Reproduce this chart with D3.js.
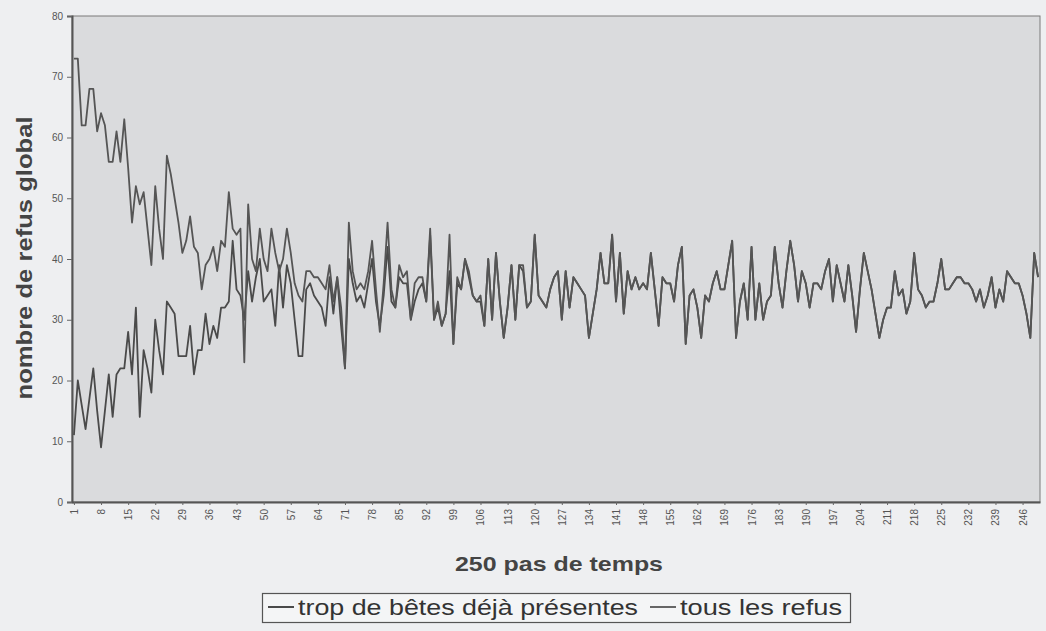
<!DOCTYPE html>
<html><head><meta charset="utf-8">
<script src="https://cdn.jsdelivr.net/npm/d3@7"></script>
<style>
html,body{margin:0;padding:0;background:#eeeff1;}
svg{display:block;font-family:"Liberation Sans",Arial,sans-serif;}
</style></head>
<body><svg id="c" width="1046" height="631"></svg>
<script>
// ---- data ----
const steps = d3.range(1, 251);
const tickSteps = d3.range(1, 251, 7);
const yTicks = [0,10,20,30,40,50,60,70,80];
const seriesNames = ["trop de bêtes déjà présentes", "tous les refus"];
const trop = [
11,20,16,12,17,22,15,9,15,21, 14,21,22,22,28,21,32,14,25,22,
18,30,25,21,33,32,31,24,24,24, 29,21,25,25,31,26,29,27,32,32,
33,43,35,34,30,38,33,37,40,33, 34,35,29,39,32,39,36,30,24,24,
35,36,34,33,32,29,37,31,37,29, 22,40,36,33,34,32,36,40,33,29,
34,42,33,32,37,36,36,30,33,35, 36,33,44,30,32,29,31,38,26,36,
35,40,37,34,33,33,29,40,30,41, 33,27,32,39,30,39,38,32,33,44,
34,33,32,35,37,38,30,38,32,37, 36,35,34,27,31,35,41,36,36,44,
33,41,31,38,35,37,35,36,35,41, 35,29,37,36,36,33,39,42,26,34,
35,32,27,34,33,36,38,35,35,39, 43,27,33,36,30,42,30,36,30,33,
34,42,36,32,38,43,39,33,38,36, 32,36,36,35,38,40,33,39,36,33,
39,34,28,35,41,38,35,31,27,30, 32,32,38,34,35,31,33,41,35,34,
32,33,33,36,40,35,35,36,37,37, 36,36,35,33,35,32,34,37,32,35,
33,38,37,36,36,34,31,27,41,37
];
const tous = [
73,73,62,62,68,68,61,64,62,56, 56,61,56,63,55,46,52,49,51,45,
39,52,45,40,57,54,50,46,41,43, 47,42,41,35,39,40,42,38,43,42,
51,45,44,45,23,49,40,38,45,40, 38,45,41,38,40,45,41,36,34,33,
38,38,37,37,36,35,39,33,37,32, 22,46,38,35,36,35,38,43,35,28,
36,46,35,32,39,37,38,30,36,37, 37,33,45,30,33,29,31,44,26,37,
35,40,38,34,33,34,29,40,30,41, 33,27,32,39,30,39,39,32,33,44,
34,33,32,35,37,38,30,38,32,37, 36,35,34,27,31,35,41,36,36,44,
33,41,31,38,35,37,35,36,35,41, 35,29,37,36,36,33,39,42,26,34,
35,32,27,34,33,36,38,35,35,39, 43,27,33,36,30,42,30,36,30,33,
34,42,36,32,38,43,39,33,38,36, 32,36,36,35,38,40,33,39,36,33,
39,34,28,35,41,38,35,31,27,30, 32,32,38,34,35,31,33,41,35,34,
32,33,33,36,40,35,35,36,37,37, 36,36,35,33,35,32,34,37,32,35,
33,38,37,36,36,34,31,27,41,37
];

// ---- layout ----
const svg = d3.select("#c");
const L = 72, T = 16, R = 1040, B = 502;
const x = d3.scalePoint().domain(steps).range([L, R]).padding(0.5);
const y = d3.scaleLinear().domain([0, 80]).range([B, T]);

svg.append("rect").attr("x",0).attr("y",0).attr("width",1046).attr("height",631).attr("fill","#eeeff1");
svg.append("rect").attr("x",L).attr("y",T).attr("width",R-L).attr("height",B-T)
  .attr("fill","#dadbdd").attr("stroke","#7a7a7a").attr("stroke-width",1);

// lines
const line = d3.line().x((d,i)=>x(steps[i])).y(d=>y(d));
svg.append("path").datum(trop).attr("d",line).attr("fill","none")
  .attr("stroke","#4a4a4a").attr("stroke-width",1.8).attr("stroke-linejoin","round");
svg.append("path").datum(tous).attr("d",line).attr("fill","none")
  .attr("stroke","#555555").attr("stroke-width",1.8).attr("stroke-linejoin","round");

// y axis
const ya = svg.append("g").attr("transform",`translate(${L},0)`)
  .call(d3.axisLeft(y).tickValues(yTicks).tickSize(5).tickPadding(4));
ya.select(".domain").attr("stroke","#555").attr("stroke-width",2);
ya.selectAll(".tick line").attr("stroke","#666");
ya.selectAll(".tick text").attr("fill","#555").attr("font-size",10);

// x axis
const xa = svg.append("g").attr("transform",`translate(0,${B})`)
  .call(d3.axisBottom(x).tickValues(tickSteps).tickSize(3).tickSizeOuter(0));
xa.select(".domain").attr("stroke","#555").attr("stroke-width",2);
xa.selectAll(".tick line").attr("stroke","#666");
xa.selectAll(".tick text").attr("fill","#555").attr("font-size",10)
  .attr("transform","rotate(-90)").attr("text-anchor","end")
  .attr("x",-7).attr("y",0).attr("dy","0.35em");

// titles
svg.append("text").attr("x",559).attr("y",571).attr("text-anchor","middle")
  .attr("font-size",21).attr("font-weight","bold").attr("fill","#444")
  .attr("textLength",208).attr("lengthAdjust","spacingAndGlyphs").text("250 pas de temps");
svg.append("text").attr("transform","translate(32,258) rotate(-90)").attr("text-anchor","middle")
  .attr("font-size",22).attr("font-weight","bold").attr("fill","#444")
  .attr("textLength",283).attr("lengthAdjust","spacingAndGlyphs").text("nombre de refus global");

// legend
const lg = svg.append("g");
lg.append("rect").attr("x",262.5).attr("y",593.5).attr("width",588).attr("height",29)
  .attr("fill","#f4f5f6").attr("stroke","#555").attr("stroke-width",1.2);
const items = [
  {name:seriesNames[0], color:"#4a4a4a", x0:268, w:340},
  {name:seriesNames[1], color:"#666666", x0:650, w:162}
];
items.forEach(it=>{
  lg.append("line").attr("x1",it.x0).attr("x2",it.x0+26).attr("y1",607).attr("y2",607)
    .attr("stroke",it.color).attr("stroke-width",2);
  lg.append("text").attr("x",it.x0+30).attr("y",615).attr("font-size",22)
    .attr("fill","#333").attr("textLength",it.w).attr("lengthAdjust","spacingAndGlyphs").text(it.name);
});
</script></body></html>
